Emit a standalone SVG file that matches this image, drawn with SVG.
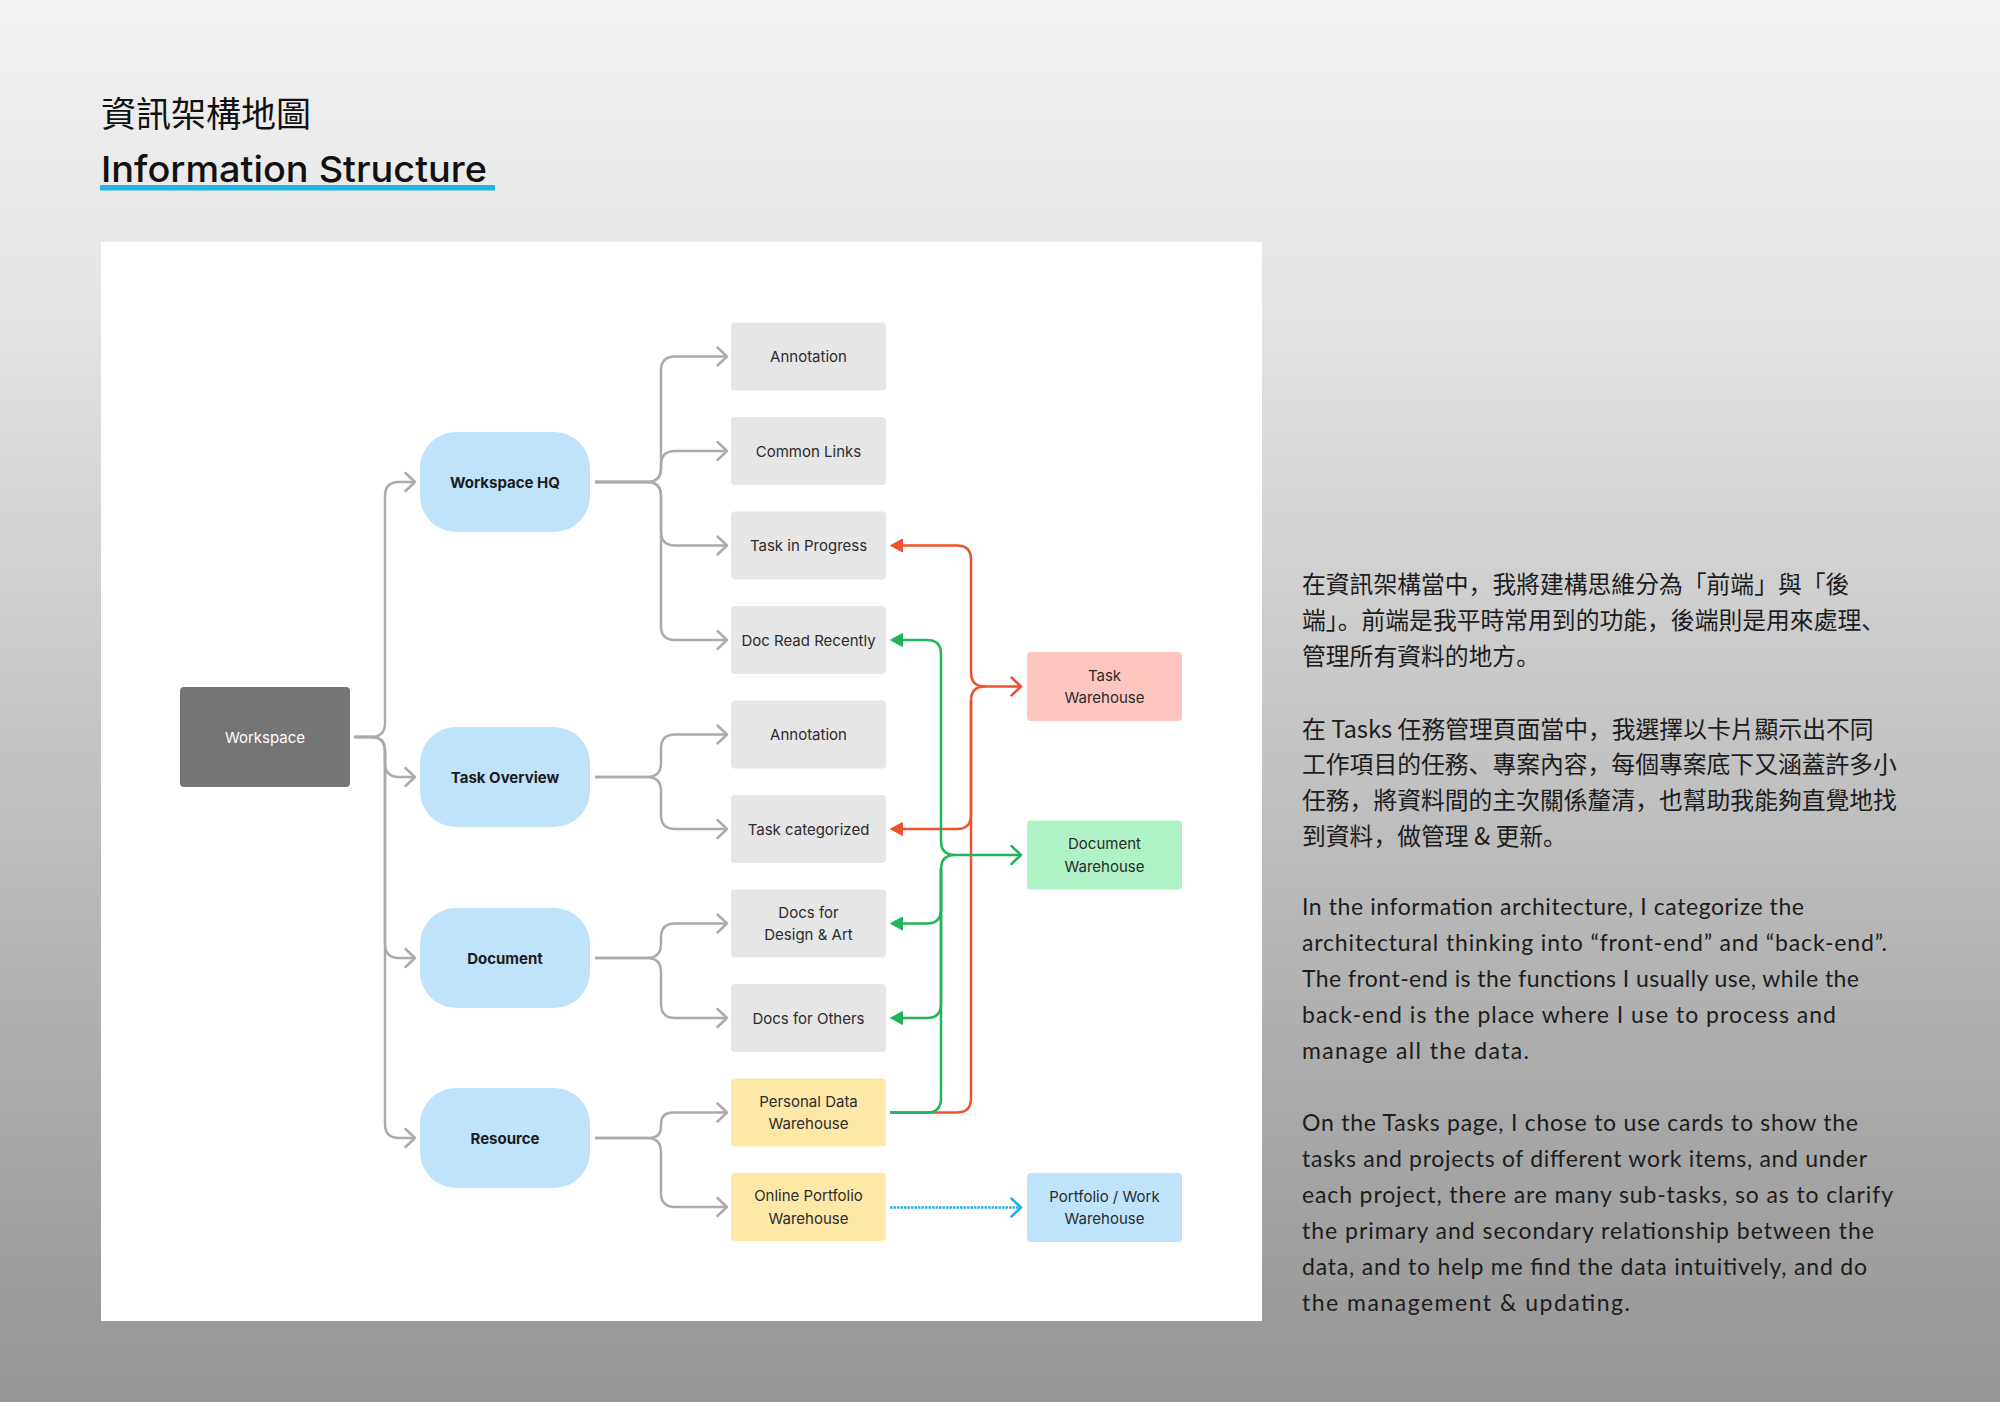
<svg xmlns="http://www.w3.org/2000/svg" width="2000" height="1402" viewBox="0 0 2000 1402">
<defs>
<linearGradient id="bg" x1="0" y1="0" x2="0" y2="1">
<stop offset="0" stop-color="#f2f2f2"/>
<stop offset="0.2" stop-color="#e6e6e6"/>
<stop offset="0.5" stop-color="#c7c7c7"/>
<stop offset="0.75" stop-color="#adadad"/>
<stop offset="1" stop-color="#959595"/>
</linearGradient>
<marker id="ag" viewBox="0 0 14 22" refX="11" refY="11" markerWidth="14" markerHeight="22" markerUnits="userSpaceOnUse" orient="auto"><path d="M1.5,2 L11,11 L1.5,20" fill="none" stroke="#ababab" stroke-width="2.5" stroke-linecap="round" stroke-linejoin="round"/></marker>
<marker id="ar" viewBox="0 0 14 22" refX="11" refY="11" markerWidth="14" markerHeight="22" markerUnits="userSpaceOnUse" orient="auto"><path d="M1.5,2 L11,11 L1.5,20" fill="none" stroke="#ef5230" stroke-width="2.5" stroke-linecap="round" stroke-linejoin="round"/></marker>
<marker id="agr" viewBox="0 0 14 22" refX="11" refY="11" markerWidth="14" markerHeight="22" markerUnits="userSpaceOnUse" orient="auto"><path d="M1.5,2 L11,11 L1.5,20" fill="none" stroke="#22b45a" stroke-width="2.5" stroke-linecap="round" stroke-linejoin="round"/></marker>
<marker id="ab" viewBox="0 0 14 22" refX="11" refY="11" markerWidth="14" markerHeight="22" markerUnits="userSpaceOnUse" orient="auto"><path d="M1.5,2 L11,11 L1.5,20" fill="none" stroke="#23b0e0" stroke-width="2.5" stroke-linecap="round" stroke-linejoin="round"/></marker>
<marker id="fr" viewBox="0 0 13 14" refX="7" refY="7" markerWidth="13" markerHeight="14" markerUnits="userSpaceOnUse" orient="auto"><path d="M0.5,0.5 L12.5,7 L0.5,13.5 z" fill="#ef5230" stroke="#ef5230" stroke-width="1" stroke-linejoin="round"/></marker>
<marker id="fg" viewBox="0 0 13 14" refX="7" refY="7" markerWidth="13" markerHeight="14" markerUnits="userSpaceOnUse" orient="auto"><path d="M0.5,0.5 L12.5,7 L0.5,13.5 z" fill="#22b45a" stroke="#22b45a" stroke-width="1" stroke-linejoin="round"/></marker>
</defs>
<style>
.lbl{font-family:Inter,'Liberation Sans',sans-serif;font-size:15px;fill:#2b2b2b;text-anchor:middle}
.b{font-weight:700;fill:#1d1d1d}
.w{fill:#ffffff}
.leaf{fill:#e6e6e6}
.yel{fill:#fee8a7}
.blue{fill:#bfe3fb}
.g{fill:none;stroke:#ababab;stroke-width:2.5;marker-end:url(#ag)}
.r{fill:none;stroke:#ef5230;stroke-width:2.5}
.gr{fill:none;stroke:#22b45a;stroke-width:2.5}
.zh{font-family:'Noto Sans CJK TC','Noto Sans CJK SC',sans-serif;font-size:23.8px;fill:#1c1c1c}
.p{font-family:'Noto Sans CJK SC','Noto Sans CJK TC',sans-serif}
.en{font-family:Lato,'Liberation Sans',sans-serif;font-size:23px;fill:#1c1c1c}
</style>
<rect x="0" y="0" width="2000" height="1402" fill="url(#bg)"/>
<g id="title">
<text x="101" y="127" font-family="'Noto Sans CJK TC','Noto Sans CJK SC',sans-serif" font-size="35" fill="#111">資訊架構地圖</text>
<text x="101" y="182" font-family="Inter,'Liberation Sans',sans-serif" font-weight="500" font-size="36" fill="#111" textLength="386" lengthAdjust="spacingAndGlyphs">Information Structure</text>
<rect x="100" y="185" width="395" height="5.5" fill="#1fb4e1"/>
</g>
<rect id="panel" x="101" y="242" width="1161" height="1079" fill="#ffffff"/>
<g id="connectors">
<path class="g" d="M354,737 H371 Q385,737 385,723 V496 Q385,482 399,482 H415"/>
<path class="g" d="M354,737 H371 Q385,737 385,751 V763 Q385,777 399,777 H415"/>
<path class="g" d="M354,737 H371 Q385,737 385,751 V944 Q385,958 399,958 H415"/>
<path class="g" d="M354,737 H371 Q385,737 385,751 V1124 Q385,1138 399,1138 H415"/>
<path class="g" d="M595,482 H647 Q661,482 661,468 V370.5 Q661,356.5 675,356.5 H727"/>
<path class="g" d="M595,482 H647 Q661,482 661,468 V465 Q661,451 675,451 H727"/>
<path class="g" d="M595,482 H647 Q661,482 661,496 V531.5 Q661,545.5 675,545.5 H727"/>
<path class="g" d="M595,482 H647 Q661,482 661,496 V626 Q661,640 675,640 H727"/>
<path class="g" d="M595,777 H647 Q661,777 661,763 V748.5 Q661,734.5 675,734.5 H727"/>
<path class="g" d="M595,777 H647 Q661,777 661,791 V815 Q661,829 675,829 H727"/>
<path class="g" d="M595,958 H647 Q661,958 661,944 V937.5 Q661,923.5 675,923.5 H727"/>
<path class="g" d="M595,958 H647 Q661,958 661,972 V1004 Q661,1018 675,1018 H727"/>
<path class="g" d="M595,1138 H649 Q661,1138 661,1126 V1124.5 Q661,1112.5 673,1112.5 H727"/>
<path class="g" d="M595,1138 H647 Q661,1138 661,1152 V1193 Q661,1207 675,1207 H727"/>
<path class="r" marker-end="url(#ar)" d="M890,1112.5 H957 Q971,1112.5 971,1098.5 V700.5 Q971,686.5 985,686.5 H1021"/>
<path class="r" marker-end="url(#fr)" d="M985,686.5 Q971,686.5 971,672.5 V559.5 Q971,545.5 957,545.5 H896"/>
<path class="r" marker-end="url(#fr)" d="M971,700.5 V815 Q971,829 957,829 H896"/>
<path class="gr" marker-end="url(#agr)" d="M890,1112.5 H927 Q941,1112.5 941,1098.5 V869 Q941,855 955,855 H1021"/>
<path class="gr" marker-end="url(#fg)" d="M955,855 Q941,855 941,841 V654 Q941,640 927,640 H896"/>
<path class="gr" marker-end="url(#fg)" d="M941,869 V909.5 Q941,923.5 927,923.5 H896"/>
<path class="gr" marker-end="url(#fg)" d="M941,869 V1004 Q941,1018 927,1018 H896"/>
<path fill="none" stroke="#23b0e0" stroke-width="2.5" stroke-dasharray="2.5 1" marker-end="url(#ab)" d="M890,1207.5 H1021"/>
</g>
<g id="workspace"><rect x="180" y="687" width="170" height="100" rx="4" fill="#757575"/><text class="lbl w" x="265" y="742.5">Workspace</text></g>
<g id="workspace-hq"><rect class="blue" x="420" y="432" width="170" height="100" rx="36"/><text class="lbl b" x="505" y="487.5">Workspace HQ</text></g>
<g id="task-overview"><rect class="blue" x="420" y="727" width="170" height="100" rx="36"/><text class="lbl b" x="505" y="782.5">Task Overview</text></g>
<g id="document"><rect class="blue" x="420" y="908" width="170" height="100" rx="36"/><text class="lbl b" x="505" y="963.5">Document</text></g>
<g id="resource"><rect class="blue" x="420" y="1088" width="170" height="100" rx="36"/><text class="lbl b" x="505" y="1143.5">Resource</text></g>
<g id="annotation-1"><rect class="leaf" x="731" y="322.5" width="155" height="68" rx="4"/><text class="lbl" x="808.5" y="362">Annotation</text></g>
<g id="common-links"><rect class="leaf" x="731" y="417" width="155" height="68" rx="4"/><text class="lbl" x="808.5" y="456.5">Common Links</text></g>
<g id="task-in-progress"><rect class="leaf" x="731" y="511.5" width="155" height="68" rx="4"/><text class="lbl" x="808.5" y="551">Task in Progress</text></g>
<g id="doc-read-recently"><rect class="leaf" x="731" y="606" width="155" height="68" rx="4"/><text class="lbl" x="808.5" y="645.5">Doc Read Recently</text></g>
<g id="annotation-2"><rect class="leaf" x="731" y="700.5" width="155" height="68" rx="4"/><text class="lbl" x="808.5" y="740">Annotation</text></g>
<g id="task-categorized"><rect class="leaf" x="731" y="795" width="155" height="68" rx="4"/><text class="lbl" x="808.5" y="834.5">Task categorized</text></g>
<g id="docs-design-art"><rect class="leaf" x="731" y="889.5" width="155" height="68" rx="4"/><text class="lbl" x="808.5" y="917.5">Docs for</text><text class="lbl" x="808.5" y="940.3">Design &amp; Art</text></g>
<g id="docs-others"><rect class="leaf" x="731" y="984" width="155" height="68" rx="4"/><text class="lbl" x="808.5" y="1023.5">Docs for Others</text></g>
<g id="personal-data-warehouse"><rect class="yel" x="731" y="1078.5" width="155" height="68" rx="4"/><text class="lbl" x="808.5" y="1106.5">Personal Data</text><text class="lbl" x="808.5" y="1129.3">Warehouse</text></g>
<g id="online-portfolio-warehouse"><rect class="yel" x="731" y="1173" width="155" height="68" rx="4"/><text class="lbl" x="808.5" y="1201">Online Portfolio</text><text class="lbl" x="808.5" y="1223.8">Warehouse</text></g>
<g id="task-warehouse"><rect x="1027" y="652" width="155" height="69" rx="4" fill="#fdc6bf"/><text class="lbl" x="1104.5" y="680.5">Task</text><text class="lbl" x="1104.5" y="703.3">Warehouse</text></g>
<g id="document-warehouse"><rect x="1027" y="820.5" width="155" height="69" rx="4" fill="#aef2c6"/><text class="lbl" x="1104.5" y="849">Document</text><text class="lbl" x="1104.5" y="871.8">Warehouse</text></g>
<g id="portfolio-work-warehouse"><rect class="blue" x="1027" y="1173" width="155" height="69" rx="4"/><text class="lbl" x="1104.5" y="1201.5">Portfolio / Work</text><text class="lbl" x="1104.5" y="1224.3">Warehouse</text></g>
<g id="description">
<text class="zh" x="1302" y="593">在資訊架構當中<tspan class="p">，</tspan>我將建構思維分為「前端」與「後</text>
<text class="zh" x="1302" y="629">端」<tspan class="p">。</tspan>前端是我平時常用到的功能<tspan class="p">，</tspan>後端則是用來處理<tspan class="p">、</tspan></text>
<text class="zh" x="1302" y="664.5">管理所有資料的地方<tspan class="p">。</tspan></text>
<text class="zh" x="1302" y="737.5">在 Tasks 任務管理頁面當中<tspan class="p">，</tspan>我選擇以卡片顯示出不同</text>
<text class="zh" x="1302" y="773">工作項目的任務<tspan class="p">、</tspan>專案內容<tspan class="p">，</tspan>每個專案底下又涵蓋許多小</text>
<text class="zh" x="1302" y="808.5">任務<tspan class="p">，</tspan>將資料間的主次關係釐清<tspan class="p">，</tspan>也幫助我能夠直覺地找</text>
<text class="zh" x="1302" y="844.5">到資料<tspan class="p">，</tspan>做管理 &amp; 更新<tspan class="p">。</tspan></text>
<text class="en" x="1302" y="915" textLength="502" lengthAdjust="spacing">In the information architecture, I categorize the</text>
<text class="en" x="1302" y="951" textLength="585" lengthAdjust="spacing">architectural thinking into “front-end” and “back-end”.</text>
<text class="en" x="1302" y="987" textLength="557" lengthAdjust="spacing">The front-end is the functions I usually use, while the</text>
<text class="en" x="1302" y="1023" textLength="534" lengthAdjust="spacing">back-end is the place where I use to process and</text>
<text class="en" x="1302" y="1059" textLength="227" lengthAdjust="spacing">manage all the data.</text>
<text class="en" x="1302" y="1131" textLength="556" lengthAdjust="spacing">On the Tasks page, I chose to use cards to show the</text>
<text class="en" x="1302" y="1167" textLength="565" lengthAdjust="spacing">tasks and projects of different work items, and under</text>
<text class="en" x="1302" y="1203" textLength="591" lengthAdjust="spacing">each project, there are many sub-tasks, so as to clarify</text>
<text class="en" x="1302" y="1239" textLength="572" lengthAdjust="spacing">the primary and secondary relationship between the</text>
<text class="en" x="1302" y="1275" textLength="565" lengthAdjust="spacing">data, and to help me find the data intuitively, and do</text>
<text class="en" x="1302" y="1311" textLength="328" lengthAdjust="spacing">the management &amp; updating.</text>
</g>
</svg>
